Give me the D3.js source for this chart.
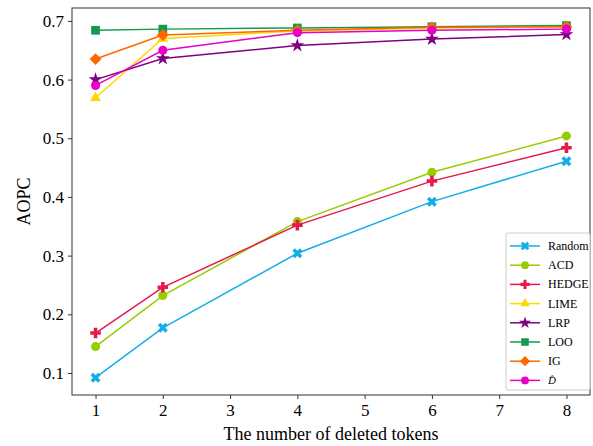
<!DOCTYPE html>
<html>
<head>
<meta charset="utf-8">
<script src="https://cdn.jsdelivr.net/npm/d3@7"></script>
<style>
  body { margin: 0; background: #fff; }
  svg text { font-family: "Liberation Serif", "Times New Roman", serif; }
</style>
</head>
<body>
<svg width="593" height="446"></svg>
<script>
var xs = [1, 2, 4, 6, 8];
var xTicks = [1, 2, 3, 4, 5, 6, 7, 8];
var yTicks = [0.1, 0.2, 0.3, 0.4, 0.5, 0.6, 0.7];

var names   = ["Random", "ACD", "HEDGE", "LIME", "LRP", "LOO", "IG", "D\u0302"];
var colors  = ["#14aee6", "#99cc00", "#e6194b", "#ffd700", "#800080", "#139a4f", "#ff6600", "#e600c8"];
var markers = ["x", "circle", "plus", "triangle", "star", "square", "diamond", "circle"];

var random = [0.092, 0.177, 0.304, 0.392, 0.461];
var acd    = [0.145, 0.232, 0.358, 0.442, 0.504];
var hedge  = [0.168, 0.246, 0.352, 0.427, 0.484];
var lime   = [0.569, 0.670, 0.683, 0.688, 0.690];
var lrp    = [0.600, 0.636, 0.658, 0.669, 0.677];
var loo    = [0.684, 0.686, 0.688, 0.690, 0.692];
var ig     = [0.635, 0.676, 0.684, 0.689, 0.690];
var dhat   = [0.590, 0.650, 0.680, 0.684, 0.686];
var series = [random, acd, hedge, lime, lrp, loo, ig, dhat];

var svg = d3.select("svg");
var L = 72, R = 590, T = 8, B = 395;
var serif = "'Liberation Serif', 'Times New Roman', serif";

var x = d3.scaleLinear().domain([0.65, 8.35]).range([L, R]);
var y = d3.scaleLinear().domain([0.0625, 0.722]).range([B, T]);

var symType = {
  x: d3.symbolCross, circle: d3.symbolCircle, plus: d3.symbolCross,
  triangle: d3.symbolTriangle, star: d3.symbolStar, square: d3.symbolSquare,
  diamond: d3.symbolSquare
};
var symSize = {x: 62, circle: 64, plus: 62, triangle: 52, star: 60, square: 76, diamond: 70};

function drawMarker(g, m, c, px, py, scale) {
  scale = scale || 1;
  var rot = (m == "x" || m == "diamond") ? " rotate(45)" : "";
  g.append("path")
    .attr("d", d3.symbol().type(symType[m]).size(symSize[m] * scale)())
    .attr("transform", "translate(" + px + "," + py + ")" + rot)
    .attr("fill", c);
}

var line = d3.line().x(function(d, k){ return x(xs[k]); }).y(function(d){ return y(d); });

var plot = svg.append("g");
series.forEach(function(s, i) {
  plot.append("path").datum(s)
    .attr("d", line)
    .attr("fill", "none")
    .attr("stroke", colors[i])
    .attr("stroke-width", 1.5);
  s.forEach(function(v, k) { drawMarker(plot, markers[i], colors[i], x(xs[k]), y(v)); });
});

// frame
svg.append("rect").attr("x", L).attr("y", T).attr("width", R - L).attr("height", B - T)
  .attr("fill", "none").attr("stroke", "#333").attr("stroke-width", 1);

// axes
var xAxis = svg.append("g").attr("transform", "translate(0," + B + ")")
  .call(d3.axisBottom(x).tickValues(xTicks).tickSize(4).tickPadding(5).tickFormat(d3.format("d")));
var yAxis = svg.append("g").attr("transform", "translate(" + L + ",0)")
  .call(d3.axisLeft(y).tickValues(yTicks).tickSize(4).tickPadding(4).tickFormat(d3.format(".1f")));
[xAxis, yAxis].forEach(function(a) {
  a.attr("font-family", serif);
  a.select(".domain").remove();
  a.selectAll("line").attr("stroke", "#333");
  a.selectAll("text").attr("font-size", 17).attr("fill", "#000");
});

svg.append("text").attr("x", (L + R) / 2).attr("y", 440).attr("text-anchor", "middle")
  .attr("font-family", serif).attr("font-size", 18).text("The number of deleted tokens");
svg.append("text").attr("transform", "translate(30," + ((T + B) / 2) + ") rotate(-90)")
  .attr("font-family", serif).attr("text-anchor", "middle").attr("font-size", 18).text("AOPC");

// legend
var lg = svg.append("g").attr("transform", "translate(506,233)");
lg.append("rect").attr("width", 84).attr("height", 157).attr("rx", 2)
  .attr("fill", "#fff").attr("fill-opacity", 0.8).attr("stroke", "#ccc");
names.forEach(function(n, i) {
  var yy = 13 + i * 19.2;
  lg.append("line").attr("x1", 4).attr("x2", 34).attr("y1", yy).attr("y2", yy)
    .attr("stroke", colors[i]).attr("stroke-width", 1.5);
  drawMarker(lg, markers[i], colors[i], 19, yy, 0.75);
  var t = lg.append("text").attr("x", 42).attr("y", yy + 4)
    .attr("font-family", serif).attr("font-size", 12).text(n);
  if (i == names.length - 1) {
    // stands in for the script D with a hat
    t.attr("font-style", "italic").attr("font-family", "'DejaVu Serif', serif").attr("font-size", 11);
  }
});
</script>
</body>
</html>
